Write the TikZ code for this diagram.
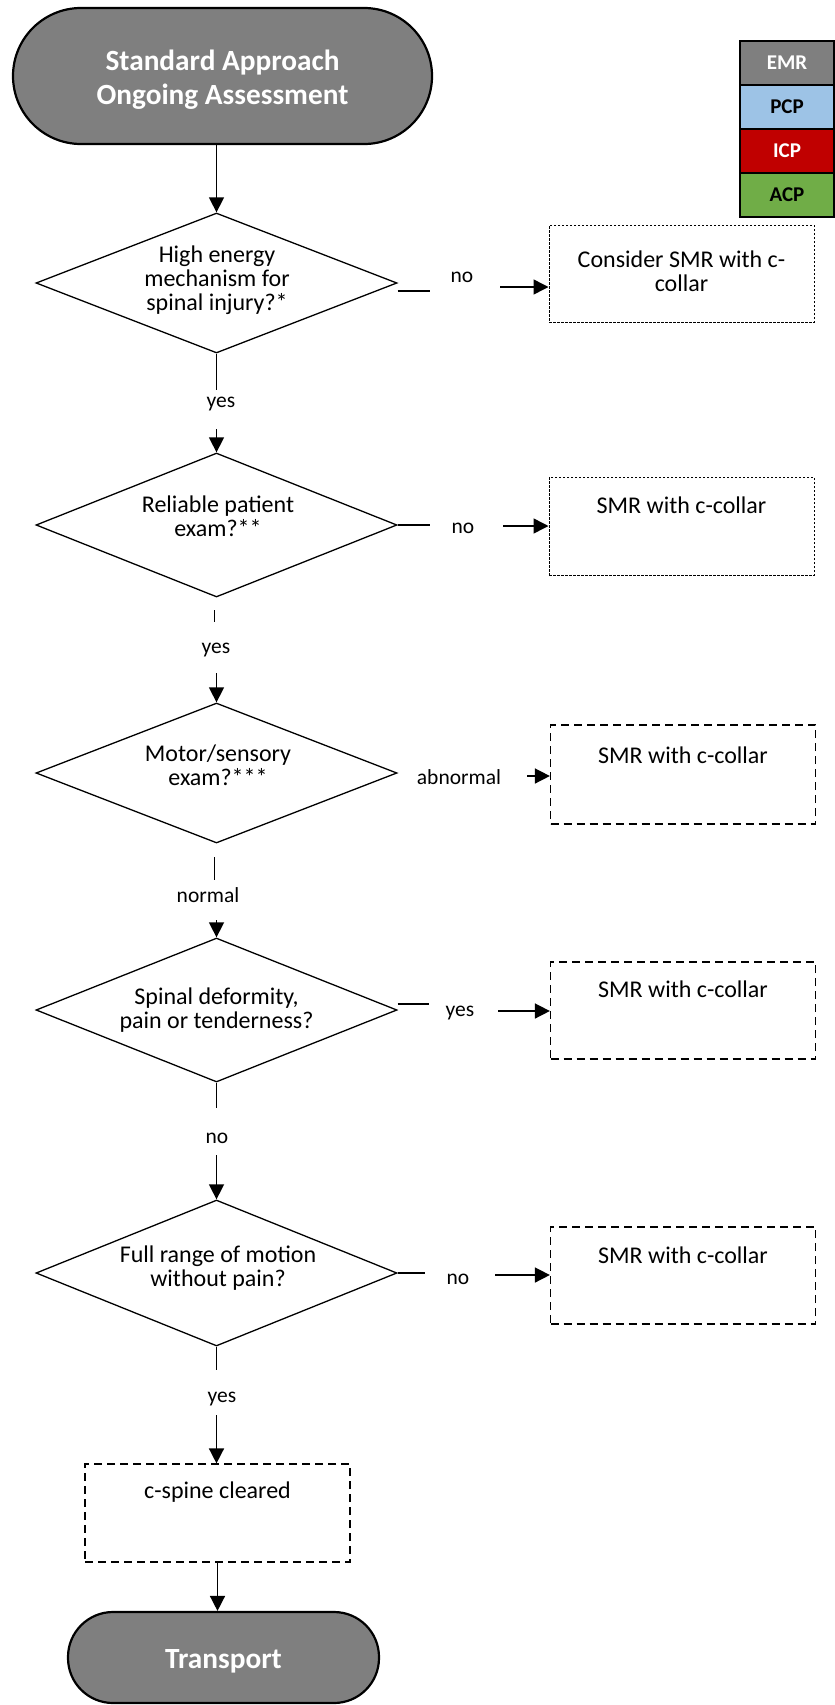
\documentclass[tikz,border=0pt]{standalone}
\usepackage{fontspec}
\setmainfont{Carlito}
\usetikzlibrary{shapes.geometric,arrows.meta,calc}
\definecolor{termgray}{HTML}{7F7F7F}
\definecolor{pcpblue}{HTML}{9DC3E6}
\definecolor{icpred}{HTML}{C00000}
\definecolor{acpgreen}{HTML}{70AD47}
\begin{document}
\begin{tikzpicture}[x=1pt,y=-1pt,
  conn/.style={line width=1.5pt},
  arr/.style={line width=1.5pt,-{Triangle[length=15pt,width=15pt]}},
  dia/.style={diamond,draw,line width=1.3pt,minimum width=361pt,minimum height=#1,inner sep=0pt},
  dtext/.style={align=center,font=\fontsize{24}{24}\selectfont,inner sep=0pt},
  lbl/.style={font=\fontsize{21.5}{24}\selectfont,inner sep=0pt},
  dotbox/.style={draw,line width=1pt,dash pattern=on 2.5pt off 1.5pt,minimum width=265pt,minimum height=#1,inner sep=0pt},
  dashbox/.style={draw,line width=1.2pt,dash pattern=on 8pt off 5pt,minimum width=265pt,minimum height=#1,inner sep=0pt},
  term/.style={draw,line width=2.2pt,fill=termgray,rounded corners=#1,inner sep=0pt},
  termtext/.style={text=white,font=\bfseries\fontsize{29.3}{34}\selectfont,align=center,inner sep=0pt},
  leg/.style={draw,line width=2.5pt,minimum width=94pt,minimum height=44pt,inner sep=0pt,font=\bfseries\fontsize{21}{24}\selectfont}
]
\useasboundingbox (0,0) rectangle (835,1705);

% start terminal
\node[term=68pt,minimum width=419pt,minimum height=136pt] (term1) at (222.5,76) {};
\node[termtext] (term1t) at (222.5,80) {Standard Approach\\Ongoing Assessment};

% legend
\node[leg,fill=termgray,text=white] (legE) at (787,63) {EMR};
\node[leg,fill=pcpblue,text=black] (legP) at (787,107) {PCP};
\node[leg,fill=icpred,text=white] (legI) at (787,151) {ICP};
\node[leg,fill=acpgreen,text=black] (legA) at (787,195) {ACP};

% diamonds
\node[dia=140pt] (d1) at (216.5,283) {};
\node[dtext] (d1t) at (217,280) {High energy\\mechanism for\\spinal injury?*};
\node[dia=144pt] (d2) at (216.5,525) {};
\node[dtext] (d2t) at (218,516.5) {Reliable patient\\exam?**};
\node[dia=140pt] (d3) at (216.5,773) {};
\node[dtext] (d3t) at (218,765) {Motor/sensory\\exam?***};
\node[dia=144pt] (d4) at (216.5,1010) {};
\node[dtext] (d4t) at (216.5,1010) {Spinal deformity,\\pain or tenderness?};
\node[dia=146pt] (d5) at (216.5,1273) {};
\node[dtext] (d5t) at (218,1268.5) {Full range of motion\\without pain?};

% outcome boxes
\node[dotbox=97pt] (box1) at (681.5,273.5) {};
\node[dtext] (box1t) at (681.5,271) {Consider SMR with c-\\collar};
\node[dotbox=98pt] (box2) at (681.5,526) {};
\node[dtext] (box2t) at (681.5,505) {SMR with c-collar};
\node[dashbox=99pt] (box3) at (683,774.5) {};
\node[dtext] (box3t) at (683,755) {SMR with c-collar};
\node[dashbox=97pt] (box4) at (683,1010.5) {};
\node[dtext] (box4t) at (683,989) {SMR with c-collar};
\node[dashbox=97pt] (box5) at (683,1275.5) {};
\node[dtext] (box5t) at (683,1255) {SMR with c-collar};
\node[dashbox=98pt] (box6) at (217.5,1513) {};
\node[dtext] (box6t) at (217.5,1492) {c-spine cleared};

% end terminal
\node[term=45pt,minimum width=311pt,minimum height=91pt] (term2) at (223.5,1657.5) {};
\node[termtext] (term2t) at (223.5,1661) {Transport};

% start -> d1
\draw[arr] (d1.north |- term1.south) -- (d1.north);

% d1 branches
\coordinate (c1a) at (430,291);
\draw[conn] (d1.east |- c1a) -- (c1a);
\node[lbl] (l1n) at (462,277) {no};
\coordinate (c1b) at (500,287);
\draw[arr] (c1b) -- (box1.west |- c1b);
\coordinate (c1c) at (216.5,390);
\draw[conn] (d1.south) -- (c1c);
\node[lbl] (l1y) at (221,404) {yes};
\coordinate (c1d) at (216.5,429);
\draw[arr] (c1d) -- (d2.north);

% d2 branches
\coordinate (c2a) at (430,525);
\draw[conn] (d2.east) -- (c2a);
\node[lbl] (l2n) at (463,528) {no};
\coordinate (c2b) at (503,526);
\draw[arr] (c2b) -- (box2.west |- c2b);
\coordinate (c2c) at (214.5,610);
\coordinate (c2d) at (214.5,622);
\draw[conn] (c2c) -- (c2d);
\node[lbl] (l2y) at (216,650) {yes};
\coordinate (c2e) at (216.5,673);
\draw[arr] (c2e) -- (d3.north);

% d3 branches
\node[lbl] (l3a) at (459,777) {abnormal};
\coordinate (c3a) at (527,776);
\draw[arr] (c3a) -- (box3.west |- c3a);
\coordinate (c3b) at (214.5,857);
\coordinate (c3c) at (214.5,880);
\draw[conn] (c3b) -- (c3c);
\node[lbl] (l3n) at (208,895) {normal};
\coordinate (c3d) at (216.5,920);
\draw[arr] (c3d) -- (d4.north);

% d4 branches
\coordinate (c4a) at (429,1004);
\draw[conn] (d4.east |- c4a) -- (c4a);
\node[lbl] (l4y) at (460,1013) {yes};
\coordinate (c4b) at (498,1011);
\draw[arr] (c4b) -- (box4.west |- c4b);
\coordinate (c4c) at (216.5,1108);
\draw[conn] (d4.south) -- (c4c);
\node[lbl] (l4n) at (217,1138) {no};
\coordinate (c4d) at (216.5,1155);
\draw[arr] (c4d) -- (d5.north);

% d5 branches
\coordinate (c5a) at (425,1273);
\draw[conn] (d5.east) -- (c5a);
\node[lbl] (l5n) at (458,1279) {no};
\coordinate (c5b) at (495,1275);
\draw[arr] (c5b) -- (box5.west |- c5b);
\coordinate (c5c) at (216.5,1370);
\draw[conn] (d5.south) -- (c5c);
\node[lbl] (l5y) at (222,1399) {yes};
\coordinate (c5d) at (216.5,1415);
\draw[arr] (c5d) -- (box6.north -| c5d);

% box6 -> transport
\draw[arr] (box6.south) -- (box6.south |- term2.north);
\end{tikzpicture}
\end{document}
